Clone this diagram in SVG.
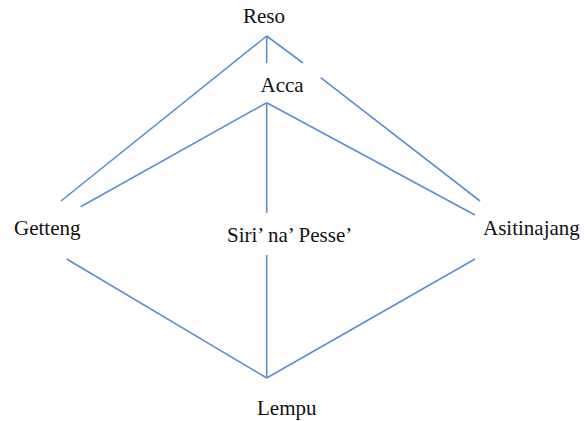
<svg xmlns="http://www.w3.org/2000/svg" width="588" height="421" viewBox="0 0 588 421">
<style>
text{font-family:'Liberation Serif','Times New Roman','DejaVu Serif',serif;font-size:21px;fill:#111}
.c line{stroke:#5b8fd0;stroke-width:1.6;stroke-linecap:butt}
</style>
<rect width="588" height="421" fill="#fff"/>
<g class="c" id="connectors">
<line x1="266.7" y1="36" x2="61" y2="201"/>
<line x1="266.7" y1="36" x2="266.7" y2="63"/>
<line x1="266.7" y1="36" x2="303" y2="63"/>
<line x1="320.7" y1="77.7" x2="480" y2="201"/>
<line x1="266.7" y1="102.7" x2="80.7" y2="206.7"/>
<line x1="266.7" y1="102.7" x2="475" y2="215"/>
<line x1="266.7" y1="102.7" x2="266.7" y2="213"/>
<line x1="266.7" y1="255" x2="266.7" y2="378"/>
<line x1="66.7" y1="259" x2="266.7" y2="378"/>
<line x1="475" y1="259" x2="266.7" y2="378"/>
</g>
<g id="reso"><text x="243" y="23">Reso</text></g>
<g id="acca"><text x="260.5" y="92">Acca</text></g>
<g id="getteng"><text x="14" y="234.5">Getteng</text></g>
<g id="siri"><text x="227" y="242">Siri’ na’ Pesse’</text></g>
<g id="asitinajang"><text x="483" y="234.5">Asitinajang</text></g>
<g id="lempu"><text x="257" y="415">Lempu</text></g>
</svg>
